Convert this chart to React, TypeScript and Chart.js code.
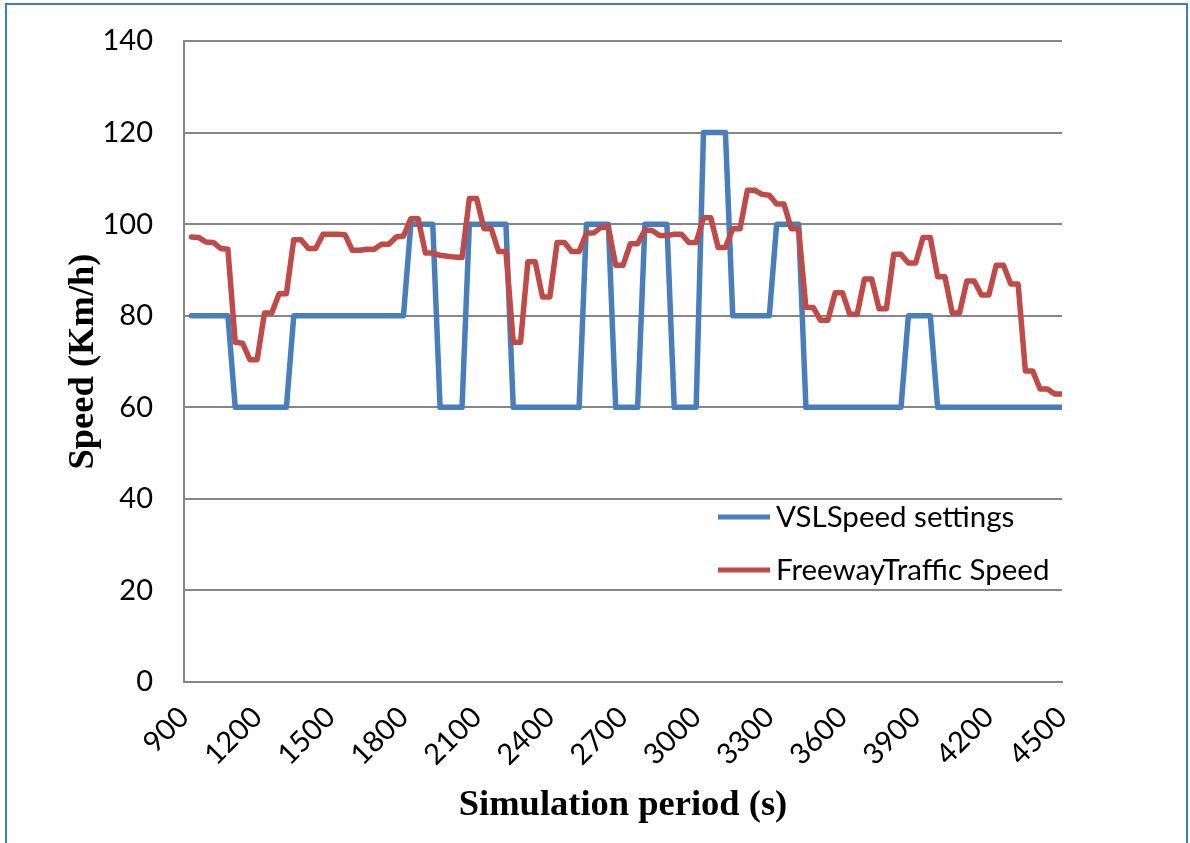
import React, { useEffect, useRef } from "react";
import { Chart, registerables } from "chart.js";

Chart.register(...registerables);

// Simulation time (s) of each sample
const times = [
  930, 960, 990, 1020, 1050, 1080, 1110, 1140, 1170, 1200,
  1230, 1260, 1290, 1320, 1350, 1380, 1410, 1440, 1470, 1500,
  1530, 1560, 1590, 1620, 1650, 1680, 1710, 1740, 1770, 1800,
  1830, 1860, 1890, 1920, 1950, 1980, 2010, 2040, 2070, 2100,
  2130, 2160, 2190, 2220, 2250, 2280, 2310, 2340, 2370, 2400,
  2430, 2460, 2490, 2520, 2550, 2580, 2610, 2640, 2670, 2700,
  2730, 2760, 2790, 2820, 2850, 2880, 2910, 2940, 2970, 3000,
  3030, 3060, 3090, 3120, 3150, 3180, 3210, 3240, 3270, 3300,
  3330, 3360, 3390, 3420, 3450, 3480, 3510, 3540, 3570, 3600,
  3630, 3660, 3690, 3720, 3750, 3780, 3810, 3840, 3870, 3900,
  3930, 3960, 3990, 4020, 4050, 4080, 4110, 4140, 4170, 4200,
  4230, 4260, 4290, 4320, 4350, 4380, 4410, 4440, 4470, 4500,
];

// VSL speed settings (km/h)
const vslSpeed = [
  80, 80, 80, 80, 80, 80, 60, 60, 60, 60,
  60, 60, 60, 60, 80, 80, 80, 80, 80, 80,
  80, 80, 80, 80, 80, 80, 80, 80, 80, 80,
  100, 100, 100, 100, 60, 60, 60, 60, 100, 100,
  100, 100, 100, 100, 60, 60, 60, 60, 60, 60,
  60, 60, 60, 60, 100, 100, 100, 100, 60, 60,
  60, 60, 100, 100, 100, 100, 60, 60, 60, 60,
  120, 120, 120, 120, 80, 80, 80, 80, 80, 80,
  100, 100, 100, 100, 60, 60, 60, 60, 60, 60,
  60, 60, 60, 60, 60, 60, 60, 60, 80, 80,
  80, 80, 60, 60, 60, 60, 60, 60, 60, 60,
  60, 60, 60, 60, 60, 60, 60, 60, 60, 60,
];

// Freeway traffic speed (km/h)
const trafficSpeed = [
  97.2, 97.1, 96.1, 96.0, 94.7, 94.5, 74.2, 74.0, 70.4, 70.4,
  80.6, 80.6, 84.8, 84.8, 96.6, 96.6, 94.7, 94.7, 97.8, 97.8,
  97.8, 97.7, 94.3, 94.3, 94.5, 94.5, 95.6, 95.6, 97.2, 97.4,
  101.2, 101.2, 93.7, 93.7, 93.2, 93.0, 92.8, 92.7, 105.6, 105.6,
  99.0, 99.0, 94.0, 94.0, 74.2, 74.2, 91.8, 91.8, 84.1, 84.1,
  96.0, 96.0, 94.0, 94.0, 98.0, 98.1, 99.3, 99.4, 91.0, 91.0,
  95.7, 95.7, 98.7, 98.6, 97.5, 97.5, 97.8, 97.8, 96.0, 96.0,
  101.4, 101.4, 94.9, 94.9, 99.0, 99.0, 107.4, 107.4, 106.5, 106.3,
  104.4, 104.4, 99.0, 99.0, 81.8, 81.8, 79.0, 79.0, 85.0, 85.0,
  80.3, 80.3, 88.0, 88.0, 81.5, 81.5, 93.4, 93.4, 91.5, 91.5,
  97.1, 97.1, 88.5, 88.5, 80.6, 80.6, 87.6, 87.6, 84.5, 84.5,
  91.0, 91.0, 86.9, 86.9, 67.9, 67.9, 64.0, 64.0, 62.9, 62.9,
];

const xTickValues = [900, 1200, 1500, 1800, 2100, 2400, 2700, 3000, 3300, 3600, 3900, 4200, 4500];
const seriesLabels = ["VSLSpeed settings", "FreewayTraffic Speed"];
const seriesColors = ["#4A7EBB", "#BE4B48"];

const TICK_FONT = "Lato";
const TITLE_FONT = "'Liberation Serif', 'Times New Roman', serif";

const insideLegend = {
  id: "insideLegend",
  afterDraw(chart: any) {
    const { ctx, chartArea } = chart;
    ctx.save();
    ctx.font = `29.5px ${TICK_FONT}`;
    ctx.textBaseline = "middle";
    ctx.textAlign = "left";
    chart.data.datasets.forEach((ds: any, k: number) => {
      const y = chartArea.top + 476 + k * 53;
      const x0 = chartArea.left + 534;
      ctx.strokeStyle = ds.borderColor;
      ctx.lineWidth = 5;
      ctx.lineCap = "butt";
      ctx.beginPath();
      ctx.moveTo(x0, y);
      ctx.lineTo(x0 + 52, y);
      ctx.stroke();
      ctx.fillStyle = "#000";
      ctx.fillText(ds.label, x0 + 58, y);
    });
    ctx.restore();
  },
};

export default function App() {
  const ref = useRef<HTMLCanvasElement>(null);

  useEffect(() => {
    document.body.style.margin = "0";
    const canvas = ref.current;
    if (!canvas) return;
    const chart = new Chart(canvas, {
      type: "line",
      data: {
        datasets: [
          {
            label: seriesLabels[0],
            data: times.map((t, i) => ({ x: t, y: vslSpeed[i] })),
            borderColor: seriesColors[0],
            backgroundColor: seriesColors[0],
            borderWidth: 5.5,
            pointRadius: 0,
            tension: 0,
            borderJoinStyle: "round",
            borderCapStyle: "round",
            order: 1,
          },
          {
            label: seriesLabels[1],
            data: times.map((t, i) => ({ x: t, y: trafficSpeed[i] })),
            borderColor: seriesColors[1],
            backgroundColor: seriesColors[1],
            borderWidth: 5.5,
            pointRadius: 0,
            tension: 0,
            borderJoinStyle: "round",
            borderCapStyle: "round",
            order: 0,
          },
        ],
      },
      options: {
        responsive: false,
        animation: false,
        devicePixelRatio: 1,
        layout: { padding: { left: 0, top: 41, right: 128, bottom: 0 } },
        plugins: {
          legend: { display: false },
          tooltip: { enabled: false },
        },
        scales: {
          x: {
            type: "linear",
            min: 900,
            max: 4500,
            afterBuildTicks: (s: any) => {
              s.ticks = xTickValues.map((v) => ({ value: v }));
            },
            afterFit: (s: any) => {
              s.height = 161;
            },
            ticks: {
              autoSkip: false,
              maxRotation: 45,
              minRotation: 45,
              padding: 18,
              color: "#000",
              font: { family: TICK_FONT, size: 29 },
              callback: (v: any) => String(v),
            },
            grid: { display: false, drawTicks: false },
            border: { display: true, color: "#868686", width: 2 },
            title: {
              display: true,
              text: "Simulation period (s)",
              color: "#000",
              font: { family: TITLE_FONT, size: 36.5, weight: "bold" },
              padding: { top: 0, bottom: 16 },
            },
          },
          y: {
            min: 0,
            max: 140,
            afterFit: (s: any) => {
              s.width = 184;
              s.paddingTop = 0;
              s.paddingBottom = 0;
            },
            ticks: {
              stepSize: 20,
              padding: 31,
              color: "#000",
              font: { family: TICK_FONT, size: 29 },
            },
            grid: { color: "#868686", lineWidth: 2, drawTicks: false },
            border: { display: true, color: "#868686", width: 2 },
            title: {
              display: true,
              text: "Speed (Km/h)",
              color: "#000",
              font: { family: TITLE_FONT, size: 36.5, weight: "bold" },
              padding: { top: 62, bottom: 0 },
            },
          },
        },
      },
      plugins: [insideLegend],
    });
    return () => chart.destroy();
  }, []);

  return (
    <div style={{ position: "relative", width: 1190, height: 843, overflow: "hidden", background: "#fff" }}>
      <canvas ref={ref} width={1190} height={843} style={{ display: "block", width: 1190, height: 843 }} />
      <div
        style={{
          position: "absolute",
          left: 5,
          top: 3,
          width: 1179,
          height: 900,
          borderTop: "2px solid #3B7DC4",
          borderLeft: "2px solid #3B7DC4",
          borderRight: "2px solid #3B7DC4",
          pointerEvents: "none",
        }}
      />
    </div>
  );
}
